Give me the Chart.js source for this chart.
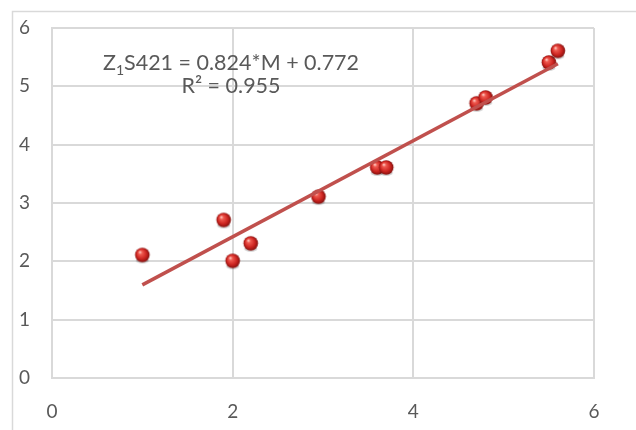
<!DOCTYPE html>
<html>
<head>
<meta charset="utf-8">
<script src="https://cdn.jsdelivr.net/npm/chart.js@4.4.1/dist/chart.umd.min.js"></script>
<style>
  html, body { margin: 0; padding: 0; background: #fff; }
  #wrap { position: relative; width: 636px; height: 430px; }
  #eq { position: absolute; left: 56px; top: 51px; width: 350px; text-align: center;
        font: 21.5px Lato, sans-serif; color: #595959; line-height: 23px; }
  #eq sub { font-size: 14px; vertical-align: -5px; line-height: 0; }
</style>
</head>
<body>
<div id="wrap">
  <canvas id="c" width="636" height="430"></canvas>
  <div id="eq">Z<sub>1</sub>S421 = 0.824*M + 0.772<br>R² = 0.955</div>
</div>
<script>
// 散点：M 与 Z1S421
const mValues = [1.0, 1.9, 2.0, 2.2, 2.95, 3.6, 3.7, 4.7, 4.8, 5.5, 5.6];
const zValues = [2.1, 2.7, 2.0, 2.3, 3.1, 3.6, 3.6, 4.7, 4.8, 5.4, 5.6];
// 线性趋势线两端（y = 0.824x + 0.772，x 取 1 ~ 5.6）
const trendX = [1.0, 5.6];
const trendY = [1.596, 5.386];
const xTicks = [0, 2, 4, 6];
const yTicks = [0, 1, 2, 3, 4, 5, 6];

// 立体红球点样式
function ball() {
  const c = document.createElement('canvas');
  c.width = 20; c.height = 20;
  const g = c.getContext('2d');
  g.fillStyle = 'rgba(0,0,0,0.18)';
  g.beginPath(); g.ellipse(10, 15, 6.5, 3, 0, 0, Math.PI * 2); g.fill();
  const r = g.createRadialGradient(7.5, 6.5, 0.5, 10, 9.5, 7.5);
  r.addColorStop(0, '#ffc4bc');
  r.addColorStop(0.2, '#ef5a50');
  r.addColorStop(0.65, '#cc2420');
  r.addColorStop(1, '#7e100e');
  g.fillStyle = r;
  g.beginPath(); g.arc(10, 9.5, 7.3, 0, Math.PI * 2); g.fill();
  return c;
}
const sphere = ball();

const frame = {
  id: 'frame',
  beforeDraw(chart) {
    const ctx = chart.ctx;
    ctx.save();
    ctx.strokeStyle = '#d9d9d9';
    ctx.lineWidth = 1.5;
    ctx.strokeRect(12.5, 11.5, 700, 500);
    ctx.restore();
  }
};

const gridOpts = { color: '#d9d9d9', lineWidth: 2, drawTicks: false };
const tickFont = { family: 'Lato', size: 19 };

new Chart(document.getElementById('c'), {
  type: 'scatter',
  data: {
    datasets: [
      {
        type: 'line',
        data: trendX.map((x, i) => ({ x, y: trendY[i] })),
        borderColor: '#c0504d', borderWidth: 3.5, pointRadius: 0,
        order: 0
      },
      {
        data: mValues.map((x, i) => ({ x, y: zValues[i] })),
        pointStyle: sphere, pointRadius: 8,
        order: 1
      }
    ]
  },
  options: {
    responsive: false, animation: false,
    layout: { padding: { top: 28, right: 42, left: 0, bottom: 0 } },
    plugins: { legend: { display: false }, tooltip: { enabled: false } },
    scales: {
      x: {
        min: 0, max: 6,
        afterBuildTicks: (s) => { s.ticks = xTicks.map((v) => ({ value: v })); },
        afterFit: (s) => { s.height = 52; s.paddingLeft = 0; s.paddingRight = 0; },
        grid: gridOpts,
        border: { color: '#d9d9d9', width: 2 },
        ticks: { color: '#595959', font: tickFont, padding: 22 }
      },
      y: {
        min: 0, max: 6,
        afterBuildTicks: (s) => { s.ticks = yTicks.map((v) => ({ value: v })); },
        afterFit: (s) => { s.width = 52; s.paddingTop = 0; s.paddingBottom = 0; },
        grid: gridOpts,
        border: { color: '#d9d9d9', width: 2 },
        ticks: { color: '#595959', font: tickFont, padding: 22 }
      }
    }
  },
  plugins: [frame]
});
</script>
</body>
</html>
